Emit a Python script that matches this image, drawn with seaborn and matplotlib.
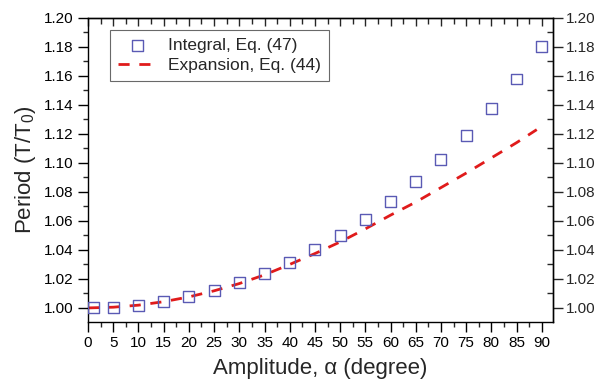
import numpy as np
import pandas as pd
import seaborn as sns
import matplotlib
matplotlib.use('Agg')
import matplotlib.pyplot as plt
from matplotlib.ticker import MultipleLocator, AutoMinorLocator

# data
amp_int = [1, 5, 10, 15, 20, 25, 30, 35, 40, 45, 50, 55, 60, 65, 70, 75, 80, 85, 90]
period_int = [1.0000, 1.0005, 1.0019, 1.0043, 1.0077, 1.0120, 1.0174, 1.0238, 1.0313,
              1.0400, 1.0498, 1.0608, 1.0732, 1.0869, 1.1021, 1.1189, 1.1375, 1.1579, 1.1803]
amp_exp = [0, 5, 10, 15, 20, 25, 30, 35, 40, 45, 50, 55, 60, 65, 70, 75, 80, 85, 89]
period_exp = [1.0000, 1.0005, 1.0019, 1.0043, 1.0076, 1.0118, 1.0168, 1.0228, 1.0300,
              1.0375, 1.0455, 1.0545, 1.0640, 1.0730, 1.0830, 1.0930, 1.1035, 1.1140, 1.1230]

df_int = pd.DataFrame({'amp': amp_int, 'period': period_int})
df_exp = pd.DataFrame({'amp': amp_exp, 'period': period_exp})

sns.set_theme(style='ticks')
plt.rcParams['font.family'] = ['Liberation Sans', 'DejaVu Sans']
plt.rcParams['mathtext.fontset'] = 'custom'
plt.rcParams['mathtext.rm'] = 'Liberation Sans'
plt.rcParams['axes.linewidth'] = 1.0

fig = plt.figure(figsize=(5.99, 3.87), dpi=100)
ax = fig.add_axes([0.147, 0.168, 0.776, 0.7855])

sns.lineplot(data=df_exp, x='amp', y='period', ax=ax, color='#e01b1b', lw=2.0,
             linestyle=(0, (4, 3.5)), label='Expansion, Eq. (44)')
sns.scatterplot(data=df_int, x='amp', y='period', ax=ax, marker='s', s=62,
                facecolor='none', edgecolor='#5a5ab4', linewidth=1.0,
                label='Integral, Eq. (47)', zorder=3)

ax.set_xlim(0, 92.2)
ax.set_ylim(0.9903, 1.20)
ax.xaxis.set_major_locator(MultipleLocator(5))
ax.xaxis.set_minor_locator(AutoMinorLocator(2))
ax.yaxis.set_major_locator(MultipleLocator(0.02))
ax.yaxis.set_minor_locator(AutoMinorLocator(2))
ax.yaxis.set_major_formatter(matplotlib.ticker.FormatStrFormatter('%.2f'))

ax.tick_params(which='major', direction='out', length=7, width=1, labelsize=11, colors='black')
ax.tick_params(which='minor', direction='out', length=3.5, width=1)
ax.tick_params(axis='x', pad=3)

for s in ax.spines.values():
    s.set_visible(True)
    s.set_color('black')

top = ax.secondary_xaxis('top')
top.xaxis.set_major_locator(MultipleLocator(5))
top.xaxis.set_minor_locator(AutoMinorLocator(2))
top.tick_params(which='major', direction='in', length=6, width=1, labeltop=False)
top.tick_params(which='minor', direction='in', length=4, width=1)

right = ax.secondary_yaxis('right')
right.yaxis.set_major_locator(MultipleLocator(0.02))
right.yaxis.set_minor_locator(AutoMinorLocator(2))
right.yaxis.set_major_formatter(matplotlib.ticker.FormatStrFormatter('%.2f'))
right.tick_params(which='major', direction='out', length=7, width=1, labelsize=11, pad=2)
right.tick_params(which='minor', direction='in', length=4, width=1)

ax.set_xlabel('Amplitude, α (degree)', fontsize=16, labelpad=6)
ax.set_ylabel('Period (T/T$_0$)', fontsize=16, labelpad=4)

handles, labels = ax.get_legend_handles_labels()
leg = ax.legend(handles[::-1], labels[::-1], loc='upper left', bbox_to_anchor=(0.047, 0.96),
                fontsize=12.5, frameon=True, fancybox=False, edgecolor='#444444',
                borderpad=0.45, handlelength=2.3, handletextpad=0.6,
                labelspacing=0.3, borderaxespad=0)
leg.get_frame().set_linewidth(0.8)

fig.savefig('out.png', dpi=100)
